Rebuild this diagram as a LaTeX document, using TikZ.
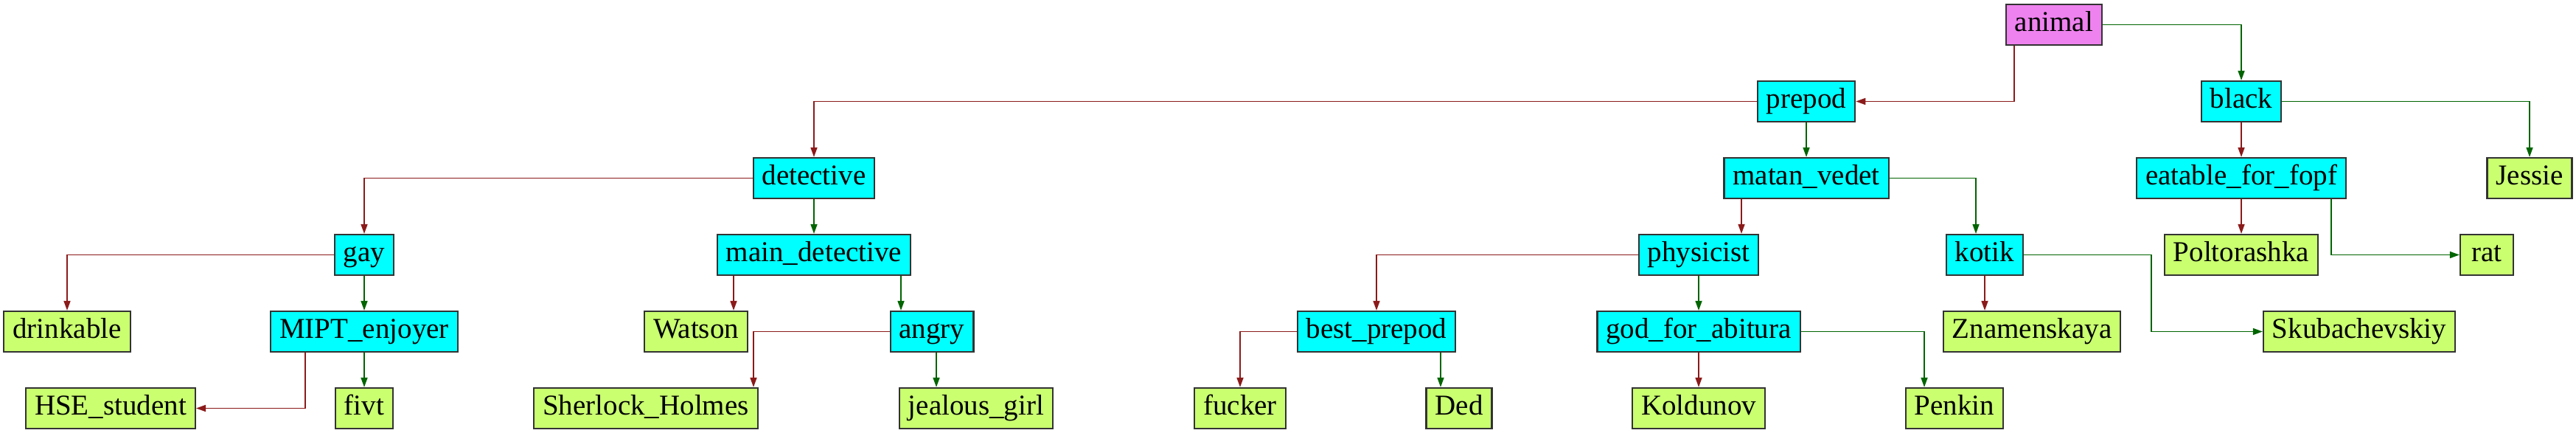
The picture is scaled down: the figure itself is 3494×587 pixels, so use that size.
\documentclass[tikz,border=0pt]{standalone}
\usepackage{fontspec}
\setmainfont{Liberation Serif}
\usetikzlibrary{arrows.meta}
\definecolor{nodecyan}{HTML}{00FFFF}
\definecolor{leafgreen}{HTML}{CAFF70}
\definecolor{rootviolet}{HTML}{EE82EE}
\definecolor{edgered}{HTML}{8B1A1A}
\definecolor{edgegreen}{HTML}{006400}
\definecolor{borderc}{HTML}{333333}
\tikzset{
  basebox/.style={draw=borderc, line width=1.1pt, rectangle, inner xsep=6pt, inner ysep=0pt,
    minimum height=27.5pt, minimum width=36pt, text height=13.5pt, text depth=4.3pt,
    font=\fontsize{19.5pt}{23pt}\selectfont},
  qbox/.style={basebox, fill=nodecyan},
  leafbox/.style={basebox, fill=leafgreen},
  rootbox/.style={basebox, fill=rootviolet},
  yesedge/.style={draw=edgered, line width=0.8pt, -{Triangle[length=6.5pt,width=4.5pt]}},
  noedge/.style={draw=edgegreen, line width=0.8pt, -{Triangle[length=6.5pt,width=4.5pt]}}
}
\begin{document}
\begin{tikzpicture}[x=0.5pt,y=-0.5pt]
\useasboundingbox (0,0) rectangle (3494,587);
% level 0
\node[rootbox] (animal) at (2786,33.5) {animal};
% level 1
\node[qbox] (prepod) at (2450,137.5) {prepod};
\node[qbox] (black) at (3040,137.5) {black};
% level 2
\node[qbox] (detective) at (1104,241.5) {detective};
\node[qbox] (matan) at (2450,241.5) {matan\_vedet};
\node[qbox] (eatable) at (3040,241.5) {eatable\_for\_fopf};
\node[leafbox] (jessie) at (3431,241.5) {Jessie};
% level 3
\node[qbox] (gay) at (494,345.5) {gay};
\node[qbox] (maindet) at (1104,345.5) {main\_detective};
\node[qbox] (physicist) at (2304,345.5) {physicist};
\node[qbox] (kotik) at (2692,345.5) {kotik};
\node[leafbox] (poltorashka) at (3040,345.5) {Poltorashka};
\node[leafbox] (rat) at (3373,345.5) {rat};
% level 4
\node[leafbox] (drinkable) at (91,449.5) {drinkable};
\node[qbox] (mipt) at (494,449.5) {MIPT\_enjoyer};
\node[leafbox] (watson) at (944,449.5) {Watson};
\node[qbox] (angry) at (1264,449.5) {angry};
\node[qbox] (best) at (1867,449.5) {best\_prepod};
\node[qbox] (god) at (2304,449.5) {god\_for\_abitura};
\node[leafbox] (znam) at (2756,449.5) {Znamenskaya};
\node[leafbox] (skub) at (3200,449.5) {Skubachevskiy};
% level 5
\node[leafbox] (hse) at (150,553.5) {HSE\_student};
\node[leafbox] (fivt) at (494,553.5) {fivt};
\node[leafbox] (sherlock) at (876,553.5) {Sherlock\_Holmes};
\node[leafbox] (jealous) at (1324,553.5) {jealous\_girl};
\node[leafbox] (fucker) at (1682,553.5) {fucker};
\node[leafbox] (ded) at (1979,553.5) {Ded};
\node[leafbox] (koldunov) at (2304,553.5) {Koldunov};
\node[leafbox] (penkin) at (2651,553.5) {Penkin};
% edges
\draw[noedge] (animal.east) -| (black.north);
\draw[yesedge] (animal.south -| 2732,0) |- (prepod.east);
\draw[yesedge] (black.south) -- (eatable.north);
\draw[noedge] (black.east) -| (jessie.north);
\draw[yesedge] (prepod.west) -| (detective.north);
\draw[noedge] (prepod.south) -- (matan.north);
\draw[yesedge] (matan.south -| 2362,0) -- (physicist.north -| 2362,0);
\draw[noedge] (matan.east) -| (kotik.north -| 2680,0);
\draw[yesedge] (eatable.south) -- (poltorashka.north);
\draw[noedge] (eatable.south -| 3162,0) |- (rat.west);
\draw[yesedge] (detective.west) -| (gay.north);
\draw[noedge] (detective.south) -- (maindet.north);
\draw[yesedge] (gay.west) -| (drinkable.north);
\draw[noedge] (gay.south) -- (mipt.north);
\draw[yesedge] (maindet.south -| 995,0) -- (watson.north -| 995,0);
\draw[noedge] (maindet.south -| 1222,0) -- (angry.north -| 1222,0);
\draw[yesedge] (physicist.west) -| (best.north);
\draw[noedge] (physicist.south) -- (god.north);
\draw[yesedge] (kotik.south) -- (znam.north -| kotik.south);
\draw[noedge] (kotik.east) -- (kotik.east -| 2918,0) |- (skub.west);
\draw[yesedge] (mipt.south -| 414,0) |- (hse.east);
\draw[noedge] (mipt.south) -- (fivt.north);
\draw[yesedge] (angry.west) -| (sherlock.north -| 1022,0);
\draw[noedge] (angry.south -| 1270,0) -- (jealous.north -| 1270,0);
\draw[yesedge] (best.west) -| (fucker.north);
\draw[noedge] (best.south -| 1954,0) -- (ded.north -| 1954,0);
\draw[yesedge] (god.south) -- (koldunov.north);
\draw[noedge] (god.east) -| (penkin.north -| 2610,0);
\end{tikzpicture}
\end{document}
